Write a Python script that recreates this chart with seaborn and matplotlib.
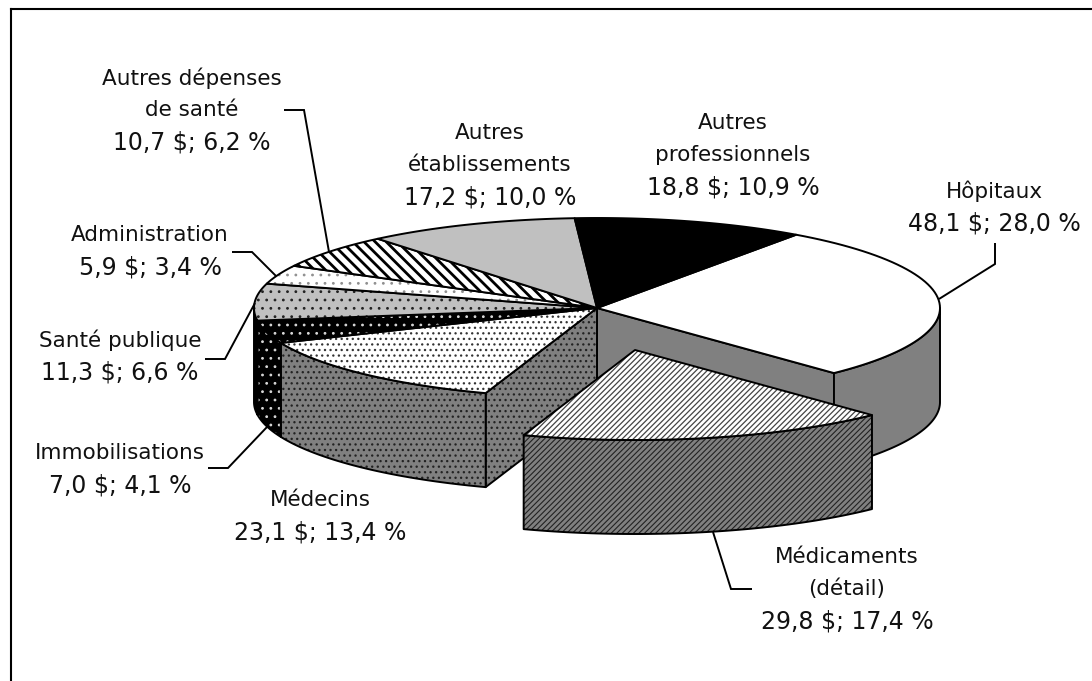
import matplotlib

matplotlib.use("Agg")
import matplotlib.pyplot as plt
import numpy as np
import seaborn as sns
from matplotlib.patches import Polygon

categories = [
    "Hôpitaux",
    "Médicaments\n(détail)",
    "Médecins",
    "Immobilisations",
    "Santé publique",
    "Administration",
    "Autres dépenses\nde santé",
    "Autres\nétablissements",
    "Autres\nprofessionnels",
]
dollars = [48.1, 29.8, 23.1, 7.0, 11.3, 5.9, 10.7, 17.2, 18.8]
shares = [28.0, 17.4, 13.4, 4.1, 6.6, 3.4, 6.2, 10.0, 10.9]

# pixel geometry of the fake 3d pie
CX, CY = 597, 308
RX, RY = 343, 90
DEPTH = 94
START_ANGLE = 54.5
EXPLODE = {1: (38, 42)}

# top face and wall styles: face, hatch colour, hatch, hatch linewidth
TOP_STYLES = [
    ("white", "none", "", 0),
    ("white", "#444444", "/" * 6, 0.9),
    ("white", "#333333", "...", 0.9),
    ("black", "#d8d8d8", "..", 0.8),
    ("#c0c0c0", "#222222", "..", 0.8),
    ("white", "#909090", "..", 0.8),
    ("white", "black", "\\" * 3, 2.0),
    ("#c0c0c0", "none", "", 0),
    ("black", "none", "", 0),
]
WALL_STYLES = [
    ("#808080", "none", "", 0),
    ("#808080", "#222222", "/" * 6, 0.8),
    ("#808080", "#222222", "...", 0.9),
    ("black", "#d8d8d8", "..", 0.8),
    ("black", "none", "", 0),
]

# centre of each label block (first text line y), line gap is 32 px
LABEL_POS = [
    (994, 191),
    (847, 557),
    (320, 500),
    (120, 453),
    (120, 340),
    (150, 235),
    (192, 78),
    (490, 133),
    (733, 123),
]
LEADERS = [
    [(995, 243), (995, 264), (939, 299)],
    [(713, 532), (731, 589), (752, 589)],
    [(208, 468), (228, 468), (267, 427)],
    [(205, 359), (225, 359), (255, 303)],
    [(232, 252), (252, 252), (276, 276)],
    [(284, 110), (304, 110), (329, 252)],
]

LINE = 1.4


def rim(angles, dx=0, dy=0, drop=0):
    rad = np.radians(angles)
    return np.column_stack((CX + dx + RX * np.cos(rad), CY + dy + drop - RY * np.sin(rad)))


def draw_shape(ax, points, style):
    face, hatch_color, hatch, hatch_lw = style
    plt.rcParams["hatch.linewidth"] = hatch_lw or 0.5
    fill = Polygon(points, closed=True, facecolor=face, edgecolor=hatch_color, hatch=hatch, linewidth=0)
    if hasattr(fill, "set_hatch_linewidth"):
        fill.set_hatch_linewidth(hatch_lw or 0.5)
    ax.add_patch(fill)
    ax.add_patch(Polygon(points, closed=True, fill=False, edgecolor="black", linewidth=LINE, joinstyle="round"))


def wall(lo, hi, dx=0, dy=0):
    angles = np.linspace(lo, hi, 60)
    return np.vstack((rim(angles, dx, dy), rim(angles[::-1], dx, dy, DEPTH)))


def radial_wall(angle, dx=0, dy=0):
    edge = rim([angle], dx, dy)[0]
    centre = (CX + dx, CY + dy)
    return [centre, edge, (edge[0], edge[1] + DEPTH), (centre[0], centre[1] + DEPTH)]


sns.set_theme(style="white")
plt.rcParams["font.family"] = ["DejaVu Sans"]

fig = plt.figure(figsize=(10.92, 6.81), dpi=100, facecolor="white")
ax = fig.add_axes([11 / 1092, 0, 1 - 11 / 1092, 1 - 9 / 681])
ax.set_xlim(11, 1092)
ax.set_ylim(681, 9)
ax.set_xticks([])
ax.set_yticks([])
sns.despine(ax=ax, top=False, left=False, right=True, bottom=True)
for side in ("top", "left"):
    ax.spines[side].set_color("black")
    ax.spines[side].set_linewidth(1.5)

# clockwise slice limits from the shares
total = sum(shares)
stops = START_ANGLE - np.cumsum([0] + shares) * 360 / total
spans = list(zip(stops[:-1], stops[1:]))

# radial cut faces behind the front walls
draw_shape(ax, radial_wall(spans[0][1]), WALL_STYLES[0])
draw_shape(ax, radial_wall(spans[2][0]), WALL_STYLES[2])

# outer walls, only the front half of the rim shows
for i in (0, 2, 3, 4):
    hi, lo = spans[i]
    hi = min(hi, 0)
    lo = max(lo, -180)
    if hi > lo:
        draw_shape(ax, wall(lo, hi), WALL_STYLES[i])

# top faces, exploded slice goes last so it sits over the rest
order = [i for i in range(len(shares)) if i not in EXPLODE] + list(EXPLODE)
for i in order:
    dx, dy = EXPLODE.get(i, (0, 0))
    hi, lo = spans[i]
    if i in EXPLODE:
        draw_shape(ax, wall(lo, hi, dx, dy), WALL_STYLES[i])
    arc = rim(np.linspace(hi, lo, 60), dx, dy)
    draw_shape(ax, np.vstack(([CX + dx, CY + dy], arc)), TOP_STYLES[i])

for points in LEADERS:
    xs, ys = zip(*points)
    ax.plot(xs, ys, color="black", linewidth=LINE, solid_capstyle="butt", solid_joinstyle="miter")

for name, dollar, share, (x, y) in zip(categories, dollars, shares, LABEL_POS):
    lines = name.split("\n")
    for k, line in enumerate(lines):
        ax.text(x, y + 32 * k, line, ha="center", va="center", fontsize=15.5, color="#111111")
    amount = f"{dollar:.1f} $; {share:.1f} %".replace(".", ",")
    ax.text(x, y + 32 * len(lines), amount, ha="center", va="center", fontsize=17, color="#111111")

fig.savefig("out.png", dpi=100)
